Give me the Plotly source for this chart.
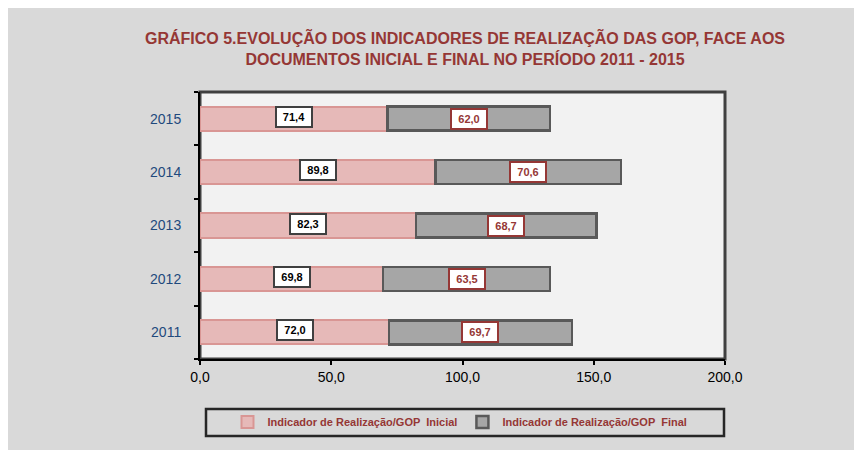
import plotly.graph_objects as go

years = ["2011", "2012", "2013", "2014", "2015"]
inicial = [72.0, 69.8, 82.3, 89.8, 71.4]
final = [69.7, 63.5, 68.7, 70.6, 62.0]
x_ticks = [0, 50, 100, 150, 200]
x_tick_labels = ["0,0", "50,0", "100,0", "150,0", "200,0"]

name_ini = "Indicador de Realização/GOP  Inicial"
name_fin = "Indicador de Realização/GOP  Final"

W, H = 862, 450
OFF = 8  # page body margin offset
# target plot area on screen: x 200..725, y 92..359
L, T = 200 - OFF, 92 - OFF
R = W - (725 - OFF)
B = H - (359 - OFF)
pw, ph = W - L - R, H - T - B

def px_x(sx):
    return (sx - OFF - L) / pw

def px_y(sy):
    return (H - B - (sy - OFF)) / ph

pos = list(range(len(years)))
bounds = [p - 0.5 for p in pos] + [pos[-1] + 0.5]

fig = go.Figure()
fig.add_trace(go.Bar(
    y=pos, x=inicial, orientation="h", name=name_ini, width=0.45,
    marker=dict(color="#e6b9b8", line=dict(color="#d99694", width=2)),
))
fig.add_trace(go.Bar(
    y=pos, x=final, orientation="h", name=name_fin, width=0.45,
    marker=dict(color="#a6a6a6", line=dict(color="#595959", width=2.5)),
))

for p, a, b in zip(pos, inicial, final):
    fig.add_annotation(
        x=a / 2, y=p, text="<b>" + f"{a:.1f}".replace(".", ",") + "</b>",
        showarrow=False, bgcolor="white", bordercolor="#404040", borderwidth=2,
        borderpad=1, width=32, height=16, yshift=2,
        font=dict(family="Liberation Sans, Arial", size=11, color="black"),
    )
    fig.add_annotation(
        x=a + b / 2, y=p, text="<b>" + f"{b:.1f}".replace(".", ",") + "</b>",
        showarrow=False, bgcolor="white", bordercolor="#953735", borderwidth=2,
        borderpad=1, width=32, height=16,
        font=dict(family="Liberation Sans, Arial", size=11, color="#953735"),
    )

# outer gray background
fig.add_shape(type="rect", xref="paper", yref="paper", layer="below",
              x0=px_x(0), x1=px_x(W + 20), y0=px_y(H + 20), y1=px_y(0),
              fillcolor="#d9d9d9", line=dict(width=0))
# plot area
fig.add_shape(type="rect", xref="paper", yref="paper", layer="below",
              x0=0, x1=1, y0=0, y1=1,
              fillcolor="#f2f2f2", line=dict(color="#404040", width=3))
# legend box
fig.add_shape(type="rect", xref="paper", yref="paper", layer="above",
              x0=px_x(206), x1=px_x(724), y0=px_y(436), y1=px_y(409),
              fillcolor="rgba(0,0,0,0)", line=dict(color="#262626", width=2.5))

fig.update_layout(
    width=W, height=H,
    margin=dict(l=L, r=R, t=T, b=B, autoexpand=False),
    barmode="stack",
    paper_bgcolor="white",
    plot_bgcolor="rgba(0,0,0,0)",
    font=dict(family="Liberation Sans, Arial", size=14, color="black"),
    title=dict(
        text="<b>GRÁFICO 5.EVOLUÇÃO DOS INDICADORES DE REALIZAÇÃO DAS GOP, FACE AOS<br>DOCUMENTOS INICIAL E FINAL NO PERÍODO 2011 - 2015</b>",
        x=(465 - OFF) / W, xanchor="center", xref="container",
        y=1 - 36 / H, yanchor="top", yref="container",
        font=dict(family="Liberation Sans, Arial", size=16, color="#953735"),
    ),
    showlegend=True,
    legend=dict(
        orientation="h", x=px_x(460), xanchor="center", y=px_y(422), yanchor="middle",
        bgcolor="rgba(0,0,0,0)", borderwidth=0,
        font=dict(family="Liberation Sans, Arial", size=11, color="#953735", weight="bold"),
        traceorder="normal", itemwidth=30,
    ),
    xaxis=dict(
        range=[0, 200], tickvals=x_ticks, ticktext=x_tick_labels, automargin=False,
        showgrid=False, zeroline=False, showline=True, linecolor="black", linewidth=2,
        ticks="outside", ticklen=4, tickwidth=2, tickcolor="black",
        tickfont=dict(size=14, color="black"),
    ),
    yaxis=dict(
        range=[bounds[0], bounds[-1]], tickvals=pos, ticktext=years, automargin=False,
        showgrid=False, zeroline=False, showline=True, linecolor="black", linewidth=2,
        ticks="", ticklabelstandoff=14,
        tickfont=dict(size=14, color="#1f497d"),
        minor=dict(tickvals=bounds, ticks="outside", ticklen=4, tickwidth=2,
                   tickcolor="black", showgrid=False),
    ),
)

fig.write_html("out.html")
